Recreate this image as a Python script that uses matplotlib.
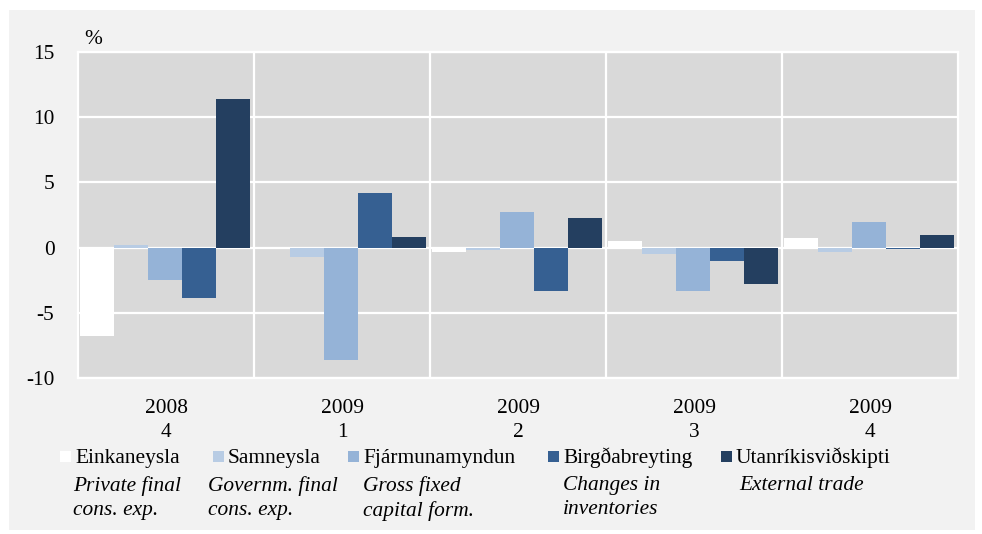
import matplotlib.pyplot as plt
import matplotlib.patches as mpatches
import numpy as np

quarters = ['2008\n4', '2009\n1', '2009\n2', '2009\n3', '2009\n4']
names_is = ['Einkaneysla', 'Samneysla', 'Fjármunamyndun', 'Birgðabreyting', 'Utanríkisviðskipti']
names_en = ['Private final\ncons. exp.', 'Governm. final\ncons. exp.', 'Gross fixed\ncapital form.',
            'Changes in\ninventories', 'External trade']
colors = ['#ffffff', '#b8cce4', '#95b3d7', '#366092', '#243f60']

private = [-6.8, 0.05, -0.3, 0.5, 0.7]
government = [0.2, -0.7, -0.2, -0.5, -0.3]
gross_fixed = [-2.5, -8.6, 2.7, -3.3, 2.0]
inventories = [-3.9, 4.2, -3.3, -1.0, -0.1]
external = [11.4, 0.8, 2.3, -2.8, 1.0]
series = [private, government, gross_fixed, inventories, external]

plt.rcParams['font.family'] = ['Liberation Serif', 'DejaVu Serif']
fs = 15.4
W, H = 982, 534
fig = plt.figure(figsize=(W / 100, H / 100), dpi=100)
fig.patches.append(mpatches.Rectangle((9 / W, 1 - 530 / H), 966 / W, 520 / H,
                                      transform=fig.transFigure, facecolor='#f2f2f2',
                                      edgecolor='none', zorder=-10))

ax = fig.add_axes([78 / W, 1 - 378 / H, 880 / W, 326 / H])
ax.set_facecolor('#d9d9d9')

x = np.arange(len(quarters))
width = 0.193
for i, vals in enumerate(series):
    ax.bar(x + 0.012 + i * width, vals, width, align='edge', color=colors[i], zorder=3)

ax.set_xlim(0, 5)
ax.set_ylim(-10, 15)
ax.set_yticks([-10, -5, 0, 5, 10, 15])
ax.set_yticklabels(['-10', '-5', '0', '5', '10', '15'])
ax.set_xticks(x + 0.5)
ax.set_xticklabels(quarters, linespacing=1.4)
ax.tick_params(axis='both', length=0, labelsize=fs)
ax.tick_params(axis='x', pad=15)
ax.tick_params(axis='y', pad=17)
ax.grid(axis='y', color='white', linewidth=1.6, zorder=1)
for b in range(1, 5):
    ax.axvline(b, color='white', linewidth=1.6, zorder=1)
for s in ax.spines.values():
    s.set_color('white')
    s.set_linewidth(1.6)
ax.set_axisbelow(True)

fig.text(84 / W, 1 - 40 / H, '%', fontsize=fs, va='center', ha='left')

# legend
sq_x = [60, 213, 348, 548, 721]
txt_x = [75, 228, 363, 563, 736]
en_x = [73, 208, 363, 563, 739]
for i in range(5):
    fig.patches.append(mpatches.Rectangle((sq_x[i] / W, 1 - 462 / H), 11 / W, 11 / H,
                                          transform=fig.transFigure, facecolor=colors[i],
                                          edgecolor='none'))
    fig.text(txt_x[i] / W, 1 - 458 / H, names_is[i], fontsize=fs, va='center', ha='left')
    fig.text(en_x[i] / W, 1 - 476 / H, names_en[i], fontsize=fs, va='top', ha='left',
             style='italic', linespacing=1.38)

fig.savefig('out.png', dpi=100, facecolor='white')
